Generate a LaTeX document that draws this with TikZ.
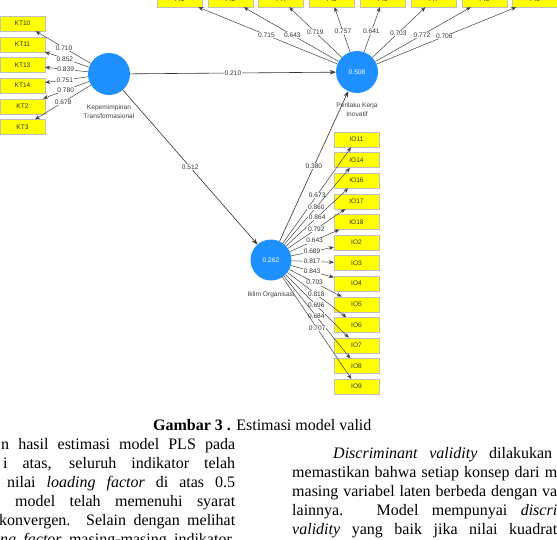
\documentclass[tikz,border=0pt]{standalone}
\usepackage{fontspec}
\setmainfont{Liberation Serif}
\newfontfamily\plsfont{Liberation Sans}
\usetikzlibrary{arrows.meta,calc,positioning}
\definecolor{latentblue}{RGB}{30,144,255}
\definecolor{indicatoryellow}{RGB}{255,255,0}
\tikzset{
  latent vertex/.style={circle,fill=latentblue,draw=none,minimum size=42pt,
    inner sep=0pt,text=white,font=\plsfont\fontsize{6.6}{7}\selectfont},
  indicator box/.style={rectangle,fill=indicatoryellow,draw=black!25,
    line width=0.4pt,minimum width=45pt,minimum height=15pt,inner sep=0pt,
    font=\plsfont\fontsize{6.6}{7}\selectfont,text=black!80},
  loading edge/.style={-{Stealth[length=5pt,width=4pt]},black!75,line width=0.5pt},
  path edge/.style={-{Stealth[length=6pt,width=4.5pt]},black!80,line width=0.6pt},
  loading label/.style={fill=white,inner sep=0.6pt,
    font=\plsfont\fontsize{6.6}{7}\selectfont,text=black!80},
  latent label/.style={align=center,font=\plsfont\fontsize{6.6}{8.5}\selectfont,
    text=black!75},
  body line/.style={anchor=base west,inner sep=0pt,
    font=\fontsize{16}{19}\selectfont}
}

\begin{document}
\begin{tikzpicture}[x=1pt,y=-1pt]
    \useasboundingbox (0,0) rectangle (557,539);
    \clip (0,0) rectangle (557,539);
    % latent variables
    \node[latent vertex] (kep) at (109,74) {};
    \node[latent vertex] (pkb) at (357,72) {0.508};
    \node[latent vertex,minimum size=41pt] (iklim) at (271,260) {0.262};
    \node[latent label,below=6pt of kep] (kepname) {Kepemimpinan\\Transformasional};
    \node[latent label,below=6pt of pkb] (pkbname) {Perilaku Kerja\\Inovatif};
    \node[latent label,below=7pt of iklim] (iklimname) {Iklim Organisasi};
    % indicators
    \foreach \ind/\row in {KT10/0,KT11/1,KT13/2,KT14/3,KT2/4,KT3/5}
      \node[indicator box] (\ind) at (22.5,23.5+20.7*\row) {\ind};
    \foreach \ind/\col in {PI1/0,PI2/1,PI4/2,PI5/3,PI6/4,PI7/5,PI8/6,PI9/7}
      \node[indicator box] (\ind) at (179.5+50.8*\col,-0.5) {\ind};
    \foreach \ind/\row in {IO11/0,IO14/1,IO16/2,IO17/3,IO18/4,IO2/5,IO3/6,
      IO4/7,IO5/8,IO6/9,IO7/10,IO8/11,IO9/12}
      \node[indicator box] (\ind) at (356.5,139.5+20.6*\row) {\ind};
    % outer loadings
    \foreach \ind/\val/\t in {KT10/0.710/0.52,KT11/0.852/0.51,KT13/0.839/0.50,
      KT14/0.751/0.51,KT2/0.780/0.50,KT3/0.679/0.53}{
      \draw[loading edge] (kep) -- (\ind);
      \node[loading label] (w\ind) at ($(kep)!\t!(\ind)$) {\val};
    }
    \foreach \ind/\val/\t in {PI1/0.715/0.51,PI2/0.643/0.51,PI4/0.719/0.55,
      PI5/0.757/0.56,PI6/0.641/0.56,PI7/0.703/0.54,PI8/0.772/0.51,PI9/0.706/0.49}{
      \draw[loading edge] (pkb) -- (\ind);
      \node[loading label] (w\ind) at ($(pkb)!\t!(\ind)$) {\val};
    }
    \foreach \ind/\val/\t in {IO11/0.673/0.54,IO14/0.860/0.53,IO16/0.864/0.54,
      IO17/0.792/0.53,IO18/0.643/0.51,IO2/0.689/0.48,IO3/0.817/0.48,
      IO4/0.843/0.48,IO5/0.703/0.51,IO6/0.818/0.53,IO7/0.696/0.53,
      IO8/0.684/0.53,IO9/0.707/0.54}{
      \draw[loading edge] (iklim) -- (\ind);
      \node[loading label] (w\ind) at ($(iklim)!\t!(\ind)$) {\val};
    }
    % structural paths
    \draw[path edge] (kep) -- node[loading label] (b1) {0.210} (pkb);
    \draw[path edge] (kep) -- node[loading label] (b2) {0.512} (iklim);
    \draw[path edge] (iklim) -- node[loading label] (b3) {0.380} (pkb);
    % caption and running text
    \node[body line] (caption) at (153,430) {\textbf{Gambar 3 .} Estimasi model valid};
    \node[body line] (left1) at (1,449) {\makebox[234pt][s]{n hasil estimasi model PLS pada}};
    \node[body line] (left2) at (3,468) {\makebox[232pt][s]{i atas, seluruh indikator telah}};
    \node[body line] (left3) at (7,487) {\makebox[228pt][s]{nilai \textit{loading factor} di atas 0.5}};
    \node[body line] (left4) at (15,506) {\makebox[220pt][s]{model telah memenuhi syarat}};
    \node[body line] (left5) at (-1,525) {\makebox[236pt][s]{konvergen. Selain dengan melihat}};
    \node[body line] (left6) at (0,544) {\makebox[235pt][s]{\textit{ng factor} masing-masing indikator,}};
    \node[body line] (right1) at (333,458) {\makebox[219pt][s]{\textit{Discriminant validity} dilakukan}};
    \node[body line] (right2) at (292,477) {\makebox[265pt][s]{memastikan bahwa setiap konsep dari m}};
    \node[body line] (right3) at (292,496) {\makebox[265pt][s]{masing variabel laten berbeda dengan va}};
    \node[body line] (right4) at (292,515) {\makebox[265pt][s]{lainnya. Model mempunyai \textit{discri}}};
    \node[body line] (right5) at (292,534) {\makebox[265pt][s]{\textit{validity} yang baik jika nilai kuadrat}};
\end{tikzpicture}
\end{document}
